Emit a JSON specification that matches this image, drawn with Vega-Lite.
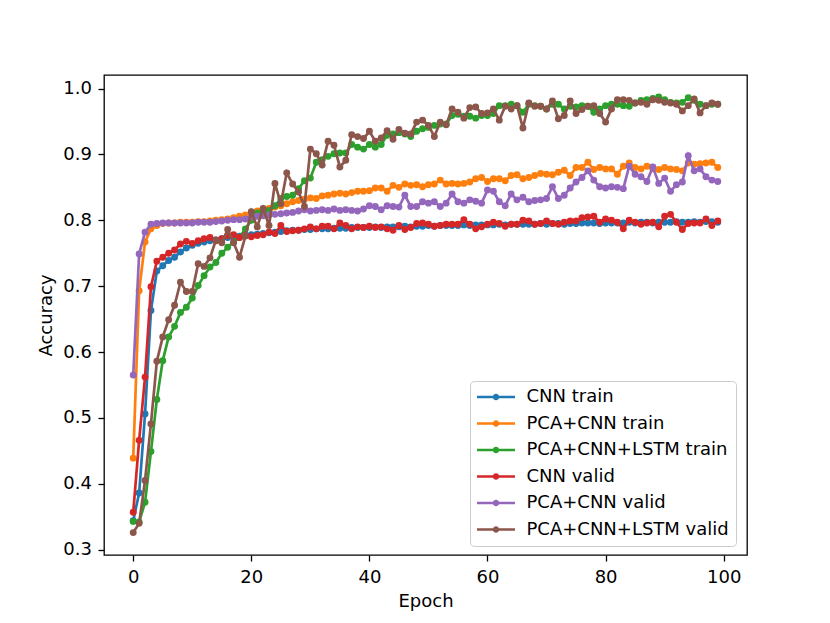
{
  "$schema": "https://vega.github.io/schema/vega-lite/v6.json",
  "autosize": "none",
  "width": 643,
  "height": 480,
  "padding": {"left": 104, "top": 75, "right": 83, "bottom": 68},
  "background": "white",
  "datasets": {
    "cnn_train": [
      {"epoch":0,"acc":0.344},{"epoch":1,"acc":0.386},{"epoch":2,"acc":0.506},{"epoch":3,"acc":0.663},{"epoch":4,"acc":0.723},
      {"epoch":5,"acc":0.731},{"epoch":6,"acc":0.739},{"epoch":7,"acc":0.744},{"epoch":8,"acc":0.752},{"epoch":9,"acc":0.758},
      {"epoch":10,"acc":0.762},{"epoch":11,"acc":0.765},{"epoch":12,"acc":0.767},{"epoch":13,"acc":0.769},{"epoch":14,"acc":0.770},
      {"epoch":15,"acc":0.772},{"epoch":16,"acc":0.774},{"epoch":17,"acc":0.775},{"epoch":18,"acc":0.776},{"epoch":19,"acc":0.777},
      {"epoch":20,"acc":0.778},{"epoch":21,"acc":0.779},{"epoch":22,"acc":0.780},{"epoch":23,"acc":0.781},{"epoch":24,"acc":0.782},
      {"epoch":25,"acc":0.783},{"epoch":26,"acc":0.784},{"epoch":27,"acc":0.785},{"epoch":28,"acc":0.785},{"epoch":29,"acc":0.786},
      {"epoch":30,"acc":0.786},{"epoch":31,"acc":0.787},{"epoch":32,"acc":0.787},{"epoch":33,"acc":0.787},{"epoch":34,"acc":0.788},
      {"epoch":35,"acc":0.788},{"epoch":36,"acc":0.788},{"epoch":37,"acc":0.789},{"epoch":38,"acc":0.789},{"epoch":39,"acc":0.789},
      {"epoch":40,"acc":0.789},{"epoch":41,"acc":0.790},{"epoch":42,"acc":0.789},{"epoch":43,"acc":0.790},{"epoch":44,"acc":0.790},
      {"epoch":45,"acc":0.790},{"epoch":46,"acc":0.791},{"epoch":47,"acc":0.790},{"epoch":48,"acc":0.791},{"epoch":49,"acc":0.791},
      {"epoch":50,"acc":0.792},{"epoch":51,"acc":0.791},{"epoch":52,"acc":0.792},{"epoch":53,"acc":0.792},{"epoch":54,"acc":0.792},
      {"epoch":55,"acc":0.792},{"epoch":56,"acc":0.793},{"epoch":57,"acc":0.792},{"epoch":58,"acc":0.793},{"epoch":59,"acc":0.793},
      {"epoch":60,"acc":0.793},{"epoch":61,"acc":0.793},{"epoch":62,"acc":0.794},{"epoch":63,"acc":0.793},{"epoch":64,"acc":0.794},
      {"epoch":65,"acc":0.794},{"epoch":66,"acc":0.794},{"epoch":67,"acc":0.794},{"epoch":68,"acc":0.794},{"epoch":69,"acc":0.795},
      {"epoch":70,"acc":0.794},{"epoch":71,"acc":0.795},{"epoch":72,"acc":0.795},{"epoch":73,"acc":0.794},{"epoch":74,"acc":0.795},
      {"epoch":75,"acc":0.795},{"epoch":76,"acc":0.796},{"epoch":77,"acc":0.796},{"epoch":78,"acc":0.796},{"epoch":79,"acc":0.795},
      {"epoch":80,"acc":0.796},{"epoch":81,"acc":0.796},{"epoch":82,"acc":0.796},{"epoch":83,"acc":0.796},{"epoch":84,"acc":0.797},
      {"epoch":85,"acc":0.796},{"epoch":86,"acc":0.797},{"epoch":87,"acc":0.797},{"epoch":88,"acc":0.796},{"epoch":89,"acc":0.797},
      {"epoch":90,"acc":0.797},{"epoch":91,"acc":0.797},{"epoch":92,"acc":0.798},{"epoch":93,"acc":0.797},{"epoch":94,"acc":0.797},
      {"epoch":95,"acc":0.798},{"epoch":96,"acc":0.797},{"epoch":97,"acc":0.798},{"epoch":98,"acc":0.798},{"epoch":99,"acc":0.797}
    ],
    "pca_train": [
      {"epoch":0,"acc":0.439},{"epoch":1,"acc":0.693},{"epoch":2,"acc":0.767},{"epoch":3,"acc":0.787},{"epoch":4,"acc":0.792},
      {"epoch":5,"acc":0.795},{"epoch":6,"acc":0.796},{"epoch":7,"acc":0.796},{"epoch":8,"acc":0.797},{"epoch":9,"acc":0.797},
      {"epoch":10,"acc":0.797},{"epoch":11,"acc":0.798},{"epoch":12,"acc":0.798},{"epoch":13,"acc":0.799},{"epoch":14,"acc":0.800},
      {"epoch":15,"acc":0.801},{"epoch":16,"acc":0.802},{"epoch":17,"acc":0.804},{"epoch":18,"acc":0.806},{"epoch":19,"acc":0.808},
      {"epoch":20,"acc":0.811},{"epoch":21,"acc":0.814},{"epoch":22,"acc":0.816},{"epoch":23,"acc":0.818},{"epoch":24,"acc":0.820},
      {"epoch":25,"acc":0.822},{"epoch":26,"acc":0.825},{"epoch":27,"acc":0.828},{"epoch":28,"acc":0.830},{"epoch":29,"acc":0.832},
      {"epoch":30,"acc":0.834},{"epoch":31,"acc":0.833},{"epoch":32,"acc":0.837},{"epoch":33,"acc":0.838},{"epoch":34,"acc":0.840},
      {"epoch":35,"acc":0.841},{"epoch":36,"acc":0.840},{"epoch":37,"acc":0.842},{"epoch":38,"acc":0.844},{"epoch":39,"acc":0.844},
      {"epoch":40,"acc":0.845},{"epoch":41,"acc":0.849},{"epoch":42,"acc":0.849},{"epoch":43,"acc":0.844},{"epoch":44,"acc":0.853},
      {"epoch":45,"acc":0.850},{"epoch":46,"acc":0.855},{"epoch":47,"acc":0.853},{"epoch":48,"acc":0.854},{"epoch":49,"acc":0.851},
      {"epoch":50,"acc":0.854},{"epoch":51,"acc":0.855},{"epoch":52,"acc":0.861},{"epoch":53,"acc":0.855},{"epoch":54,"acc":0.856},
      {"epoch":55,"acc":0.855},{"epoch":56,"acc":0.856},{"epoch":57,"acc":0.858},{"epoch":58,"acc":0.863},{"epoch":59,"acc":0.865},
      {"epoch":60,"acc":0.859},{"epoch":61,"acc":0.863},{"epoch":62,"acc":0.863},{"epoch":63,"acc":0.860},{"epoch":64,"acc":0.868},
      {"epoch":65,"acc":0.869},{"epoch":66,"acc":0.863},{"epoch":67,"acc":0.865},{"epoch":68,"acc":0.868},{"epoch":69,"acc":0.871},
      {"epoch":70,"acc":0.870},{"epoch":71,"acc":0.869},{"epoch":72,"acc":0.873},{"epoch":73,"acc":0.876},{"epoch":74,"acc":0.868},
      {"epoch":75,"acc":0.880},{"epoch":76,"acc":0.880},{"epoch":77,"acc":0.888},{"epoch":78,"acc":0.877},{"epoch":79,"acc":0.880},
      {"epoch":80,"acc":0.878},{"epoch":81,"acc":0.878},{"epoch":82,"acc":0.870},{"epoch":83,"acc":0.882},{"epoch":84,"acc":0.887},
      {"epoch":85,"acc":0.880},{"epoch":86,"acc":0.878},{"epoch":87,"acc":0.882},{"epoch":88,"acc":0.878},{"epoch":89,"acc":0.877},
      {"epoch":90,"acc":0.880},{"epoch":91,"acc":0.878},{"epoch":92,"acc":0.877},{"epoch":93,"acc":0.875},{"epoch":94,"acc":0.887},
      {"epoch":95,"acc":0.885},{"epoch":96,"acc":0.886},{"epoch":97,"acc":0.887},{"epoch":98,"acc":0.888},{"epoch":99,"acc":0.880}
    ],
    "lstm_train": [
      {"epoch":0,"acc":0.343},{"epoch":1,"acc":0.342},{"epoch":2,"acc":0.372},{"epoch":3,"acc":0.449},{"epoch":4,"acc":0.528},
      {"epoch":5,"acc":0.587},{"epoch":6,"acc":0.623},{"epoch":7,"acc":0.639},{"epoch":8,"acc":0.660},{"epoch":9,"acc":0.668},
      {"epoch":10,"acc":0.682},{"epoch":11,"acc":0.701},{"epoch":12,"acc":0.716},{"epoch":13,"acc":0.729},{"epoch":14,"acc":0.736},
      {"epoch":15,"acc":0.750},{"epoch":16,"acc":0.759},{"epoch":17,"acc":0.767},{"epoch":18,"acc":0.774},{"epoch":19,"acc":0.787},
      {"epoch":20,"acc":0.800},{"epoch":21,"acc":0.811},{"epoch":22,"acc":0.812},{"epoch":23,"acc":0.815},{"epoch":24,"acc":0.822},
      {"epoch":25,"acc":0.833},{"epoch":26,"acc":0.836},{"epoch":27,"acc":0.838},{"epoch":28,"acc":0.848},{"epoch":29,"acc":0.860},
      {"epoch":30,"acc":0.864},{"epoch":31,"acc":0.888},{"epoch":32,"acc":0.892},{"epoch":33,"acc":0.897},{"epoch":34,"acc":0.901},
      {"epoch":35,"acc":0.902},{"epoch":36,"acc":0.902},{"epoch":37,"acc":0.915},{"epoch":38,"acc":0.911},{"epoch":39,"acc":0.908},
      {"epoch":40,"acc":0.915},{"epoch":41,"acc":0.911},{"epoch":42,"acc":0.915},{"epoch":43,"acc":0.929},{"epoch":44,"acc":0.931},
      {"epoch":45,"acc":0.933},{"epoch":46,"acc":0.931},{"epoch":47,"acc":0.927},{"epoch":48,"acc":0.935},{"epoch":49,"acc":0.939},
      {"epoch":50,"acc":0.941},{"epoch":51,"acc":0.944},{"epoch":52,"acc":0.946},{"epoch":53,"acc":0.946},{"epoch":54,"acc":0.959},
      {"epoch":55,"acc":0.961},{"epoch":56,"acc":0.958},{"epoch":57,"acc":0.958},{"epoch":58,"acc":0.955},{"epoch":59,"acc":0.959},
      {"epoch":60,"acc":0.959},{"epoch":61,"acc":0.962},{"epoch":62,"acc":0.974},{"epoch":63,"acc":0.974},{"epoch":64,"acc":0.976},
      {"epoch":65,"acc":0.974},{"epoch":66,"acc":0.964},{"epoch":67,"acc":0.976},{"epoch":68,"acc":0.974},{"epoch":69,"acc":0.973},
      {"epoch":70,"acc":0.969},{"epoch":71,"acc":0.976},{"epoch":72,"acc":0.976},{"epoch":73,"acc":0.969},{"epoch":74,"acc":0.973},
      {"epoch":75,"acc":0.972},{"epoch":76,"acc":0.974},{"epoch":77,"acc":0.973},{"epoch":78,"acc":0.964},{"epoch":79,"acc":0.969},
      {"epoch":80,"acc":0.974},{"epoch":81,"acc":0.976},{"epoch":82,"acc":0.976},{"epoch":83,"acc":0.974},{"epoch":84,"acc":0.973},
      {"epoch":85,"acc":0.978},{"epoch":86,"acc":0.982},{"epoch":87,"acc":0.983},{"epoch":88,"acc":0.985},{"epoch":89,"acc":0.987},
      {"epoch":90,"acc":0.983},{"epoch":91,"acc":0.979},{"epoch":92,"acc":0.978},{"epoch":93,"acc":0.979},{"epoch":94,"acc":0.986},
      {"epoch":95,"acc":0.982},{"epoch":96,"acc":0.976},{"epoch":97,"acc":0.974},{"epoch":98,"acc":0.976},{"epoch":99,"acc":0.976}
    ],
    "cnn_valid": [
      {"epoch":0,"acc":0.357},{"epoch":1,"acc":0.466},{"epoch":2,"acc":0.562},{"epoch":3,"acc":0.699},{"epoch":4,"acc":0.738},
      {"epoch":5,"acc":0.744},{"epoch":6,"acc":0.750},{"epoch":7,"acc":0.755},{"epoch":8,"acc":0.764},{"epoch":9,"acc":0.768},
      {"epoch":10,"acc":0.765},{"epoch":11,"acc":0.769},{"epoch":12,"acc":0.772},{"epoch":13,"acc":0.774},{"epoch":14,"acc":0.769},
      {"epoch":15,"acc":0.772},{"epoch":16,"acc":0.777},{"epoch":17,"acc":0.778},{"epoch":18,"acc":0.774},{"epoch":19,"acc":0.777},
      {"epoch":20,"acc":0.775},{"epoch":21,"acc":0.777},{"epoch":22,"acc":0.778},{"epoch":23,"acc":0.782},{"epoch":24,"acc":0.780},
      {"epoch":25,"acc":0.792},{"epoch":26,"acc":0.783},{"epoch":27,"acc":0.784},{"epoch":28,"acc":0.785},{"epoch":29,"acc":0.787},
      {"epoch":30,"acc":0.790},{"epoch":31,"acc":0.787},{"epoch":32,"acc":0.791},{"epoch":33,"acc":0.791},{"epoch":34,"acc":0.787},
      {"epoch":35,"acc":0.796},{"epoch":36,"acc":0.792},{"epoch":37,"acc":0.787},{"epoch":38,"acc":0.790},{"epoch":39,"acc":0.789},
      {"epoch":40,"acc":0.791},{"epoch":41,"acc":0.789},{"epoch":42,"acc":0.790},{"epoch":43,"acc":0.787},{"epoch":44,"acc":0.785},
      {"epoch":45,"acc":0.792},{"epoch":46,"acc":0.786},{"epoch":47,"acc":0.789},{"epoch":48,"acc":0.795},{"epoch":49,"acc":0.796},
      {"epoch":50,"acc":0.794},{"epoch":51,"acc":0.791},{"epoch":52,"acc":0.792},{"epoch":53,"acc":0.794},{"epoch":54,"acc":0.794},
      {"epoch":55,"acc":0.794},{"epoch":56,"acc":0.801},{"epoch":57,"acc":0.794},{"epoch":58,"acc":0.787},{"epoch":59,"acc":0.790},
      {"epoch":60,"acc":0.794},{"epoch":61,"acc":0.797},{"epoch":62,"acc":0.795},{"epoch":63,"acc":0.791},{"epoch":64,"acc":0.794},
      {"epoch":65,"acc":0.794},{"epoch":66,"acc":0.800},{"epoch":67,"acc":0.799},{"epoch":68,"acc":0.794},{"epoch":69,"acc":0.795},
      {"epoch":70,"acc":0.799},{"epoch":71,"acc":0.795},{"epoch":72,"acc":0.794},{"epoch":73,"acc":0.797},{"epoch":74,"acc":0.799},
      {"epoch":75,"acc":0.799},{"epoch":76,"acc":0.804},{"epoch":77,"acc":0.805},{"epoch":78,"acc":0.806},{"epoch":79,"acc":0.797},
      {"epoch":80,"acc":0.802},{"epoch":81,"acc":0.800},{"epoch":82,"acc":0.797},{"epoch":83,"acc":0.787},{"epoch":84,"acc":0.800},
      {"epoch":85,"acc":0.797},{"epoch":86,"acc":0.794},{"epoch":87,"acc":0.796},{"epoch":88,"acc":0.797},{"epoch":89,"acc":0.790},
      {"epoch":90,"acc":0.806},{"epoch":91,"acc":0.809},{"epoch":92,"acc":0.797},{"epoch":93,"acc":0.786},{"epoch":94,"acc":0.795},
      {"epoch":95,"acc":0.796},{"epoch":96,"acc":0.796},{"epoch":97,"acc":0.802},{"epoch":98,"acc":0.792},{"epoch":99,"acc":0.799}
    ],
    "pca_valid": [
      {"epoch":0,"acc":0.565},{"epoch":1,"acc":0.749},{"epoch":2,"acc":0.782},{"epoch":3,"acc":0.794},{"epoch":4,"acc":0.795},
      {"epoch":5,"acc":0.796},{"epoch":6,"acc":0.796},{"epoch":7,"acc":0.796},{"epoch":8,"acc":0.796},{"epoch":9,"acc":0.796},
      {"epoch":10,"acc":0.796},{"epoch":11,"acc":0.797},{"epoch":12,"acc":0.797},{"epoch":13,"acc":0.797},{"epoch":14,"acc":0.798},
      {"epoch":15,"acc":0.799},{"epoch":16,"acc":0.800},{"epoch":17,"acc":0.801},{"epoch":18,"acc":0.801},{"epoch":19,"acc":0.802},
      {"epoch":20,"acc":0.805},{"epoch":21,"acc":0.806},{"epoch":22,"acc":0.807},{"epoch":23,"acc":0.808},{"epoch":24,"acc":0.809},
      {"epoch":25,"acc":0.810},{"epoch":26,"acc":0.811},{"epoch":27,"acc":0.812},{"epoch":28,"acc":0.814},{"epoch":29,"acc":0.816},
      {"epoch":30,"acc":0.814},{"epoch":31,"acc":0.815},{"epoch":32,"acc":0.816},{"epoch":33,"acc":0.815},{"epoch":34,"acc":0.817},
      {"epoch":35,"acc":0.815},{"epoch":36,"acc":0.816},{"epoch":37,"acc":0.815},{"epoch":38,"acc":0.814},{"epoch":39,"acc":0.817},
      {"epoch":40,"acc":0.822},{"epoch":41,"acc":0.821},{"epoch":42,"acc":0.816},{"epoch":43,"acc":0.822},{"epoch":44,"acc":0.821},
      {"epoch":45,"acc":0.820},{"epoch":46,"acc":0.838},{"epoch":47,"acc":0.821},{"epoch":48,"acc":0.821},{"epoch":49,"acc":0.828},
      {"epoch":50,"acc":0.826},{"epoch":51,"acc":0.828},{"epoch":52,"acc":0.821},{"epoch":53,"acc":0.826},{"epoch":54,"acc":0.840},
      {"epoch":55,"acc":0.828},{"epoch":56,"acc":0.826},{"epoch":57,"acc":0.831},{"epoch":58,"acc":0.829},{"epoch":59,"acc":0.826},
      {"epoch":60,"acc":0.846},{"epoch":61,"acc":0.844},{"epoch":62,"acc":0.828},{"epoch":63,"acc":0.822},{"epoch":64,"acc":0.840},
      {"epoch":65,"acc":0.831},{"epoch":66,"acc":0.835},{"epoch":67,"acc":0.828},{"epoch":68,"acc":0.830},{"epoch":69,"acc":0.831},
      {"epoch":70,"acc":0.833},{"epoch":71,"acc":0.851},{"epoch":72,"acc":0.833},{"epoch":73,"acc":0.838},{"epoch":74,"acc":0.849},
      {"epoch":75,"acc":0.858},{"epoch":76,"acc":0.865},{"epoch":77,"acc":0.875},{"epoch":78,"acc":0.861},{"epoch":79,"acc":0.851},
      {"epoch":80,"acc":0.849},{"epoch":81,"acc":0.851},{"epoch":82,"acc":0.850},{"epoch":83,"acc":0.848},{"epoch":84,"acc":0.882},
      {"epoch":85,"acc":0.870},{"epoch":86,"acc":0.866},{"epoch":87,"acc":0.859},{"epoch":88,"acc":0.881},{"epoch":89,"acc":0.856},
      {"epoch":90,"acc":0.864},{"epoch":91,"acc":0.844},{"epoch":92,"acc":0.854},{"epoch":93,"acc":0.858},{"epoch":94,"acc":0.898},
      {"epoch":95,"acc":0.875},{"epoch":96,"acc":0.878},{"epoch":97,"acc":0.866},{"epoch":98,"acc":0.861},{"epoch":99,"acc":0.859}
    ],
    "lstm_valid": [
      {"epoch":0,"acc":0.326},{"epoch":1,"acc":0.340},{"epoch":2,"acc":0.405},{"epoch":3,"acc":0.491},{"epoch":4,"acc":0.586},
      {"epoch":5,"acc":0.623},{"epoch":6,"acc":0.649},{"epoch":7,"acc":0.671},{"epoch":8,"acc":0.706},{"epoch":9,"acc":0.692},
      {"epoch":10,"acc":0.692},{"epoch":11,"acc":0.734},{"epoch":12,"acc":0.730},{"epoch":13,"acc":0.743},{"epoch":14,"acc":0.770},
      {"epoch":15,"acc":0.766},{"epoch":16,"acc":0.786},{"epoch":17,"acc":0.766},{"epoch":18,"acc":0.744},{"epoch":19,"acc":0.776},
      {"epoch":20,"acc":0.813},{"epoch":21,"acc":0.790},{"epoch":22,"acc":0.818},{"epoch":23,"acc":0.792},{"epoch":24,"acc":0.856},
      {"epoch":25,"acc":0.825},{"epoch":26,"acc":0.872},{"epoch":27,"acc":0.855},{"epoch":28,"acc":0.843},{"epoch":29,"acc":0.821},
      {"epoch":30,"acc":0.908},{"epoch":31,"acc":0.901},{"epoch":32,"acc":0.884},{"epoch":33,"acc":0.920},{"epoch":34,"acc":0.914},
      {"epoch":35,"acc":0.881},{"epoch":36,"acc":0.891},{"epoch":37,"acc":0.930},{"epoch":38,"acc":0.927},{"epoch":39,"acc":0.924},
      {"epoch":40,"acc":0.935},{"epoch":41,"acc":0.920},{"epoch":42,"acc":0.925},{"epoch":43,"acc":0.936},{"epoch":44,"acc":0.923},
      {"epoch":45,"acc":0.938},{"epoch":46,"acc":0.932},{"epoch":47,"acc":0.931},{"epoch":48,"acc":0.949},{"epoch":49,"acc":0.952},
      {"epoch":50,"acc":0.944},{"epoch":51,"acc":0.927},{"epoch":52,"acc":0.949},{"epoch":53,"acc":0.945},{"epoch":54,"acc":0.969},
      {"epoch":55,"acc":0.964},{"epoch":56,"acc":0.955},{"epoch":57,"acc":0.971},{"epoch":58,"acc":0.972},{"epoch":59,"acc":0.962},
      {"epoch":60,"acc":0.963},{"epoch":61,"acc":0.969},{"epoch":62,"acc":0.952},{"epoch":63,"acc":0.973},{"epoch":64,"acc":0.969},
      {"epoch":65,"acc":0.974},{"epoch":66,"acc":0.940},{"epoch":67,"acc":0.978},{"epoch":68,"acc":0.973},{"epoch":69,"acc":0.973},
      {"epoch":70,"acc":0.969},{"epoch":71,"acc":0.981},{"epoch":72,"acc":0.954},{"epoch":73,"acc":0.959},{"epoch":74,"acc":0.981},
      {"epoch":75,"acc":0.962},{"epoch":76,"acc":0.968},{"epoch":77,"acc":0.973},{"epoch":78,"acc":0.974},{"epoch":79,"acc":0.962},
      {"epoch":80,"acc":0.949},{"epoch":81,"acc":0.969},{"epoch":82,"acc":0.983},{"epoch":83,"acc":0.983},{"epoch":84,"acc":0.982},
      {"epoch":85,"acc":0.978},{"epoch":86,"acc":0.979},{"epoch":87,"acc":0.976},{"epoch":88,"acc":0.983},{"epoch":89,"acc":0.982},
      {"epoch":90,"acc":0.979},{"epoch":91,"acc":0.978},{"epoch":92,"acc":0.976},{"epoch":93,"acc":0.966},{"epoch":94,"acc":0.974},
      {"epoch":95,"acc":0.984},{"epoch":96,"acc":0.963},{"epoch":97,"acc":0.974},{"epoch":98,"acc":0.978},{"epoch":99,"acc":0.976}
    ]
  },
  "encoding": {
    "x": {
      "field": "epoch",
      "type": "quantitative",
      "title": "Epoch",
      "scale": {"domain": [-4.95, 103.95], "nice": false, "zero": false},
      "axis": {"values": [0, 20, 40, 60, 80, 100], "format": "d", "labelPadding": 7, "titlePadding": 6}
    },
    "y": {
      "field": "acc",
      "type": "quantitative",
      "title": "Accuracy",
      "scale": {"domain": [0.292, 1.0205], "nice": false, "zero": false},
      "axis": {"values": [0.3, 0.4, 0.5, 0.6, 0.7, 0.8, 0.9, 1.0], "format": ".1f", "labelPadding": 6.5, "titlePadding": 7}
    }
  },
  "layer": [
    {
      "data": {"name": "cnn_train"},
      "mark": {"type": "line", "strokeWidth": 2.7, "point": {"filled": true, "size": 48}},
      "encoding": {
        "color": {
          "datum": "CNN train",
          "type": "nominal",
          "scale": {
            "domain": ["CNN train", "PCA+CNN train", "PCA+CNN+LSTM train", "CNN valid", "PCA+CNN valid", "PCA+CNN+LSTM valid"],
            "range": ["#1f77b4", "#ff7f0e", "#2ca02c", "#d62728", "#9467bd", "#8c564b"]
          },
          "legend": {
            "title": null,
            "orient": "none",
            "legendX": 366,
            "legendY": 306,
            "padding": 7,
            "fillColor": "rgba(255,255,255,0.8)",
            "strokeColor": "#cccccc",
            "cornerRadius": 4,
            "symbolType": "M-1,0H1M-0.1,0A0.1,0.1,0,1,1,0.1,0A0.1,0.1,0,1,1,-0.1,0",
            "symbolSize": 1444,
            "symbolStrokeWidth": 2.7,
            "symbolOffset": -1.5,
            "clipHeight": 18,
            "rowPadding": 8.5,
            "labelOffset": 10,
            "labelLimit": 0,
            "labelFont": "DejaVu Sans",
            "labelFontSize": 18,
            "labelColor": "black"
          }
        }
      }
    },
    {
      "data": {"name": "pca_train"},
      "mark": {"type": "line", "strokeWidth": 2.7, "point": {"filled": true, "size": 48}},
      "encoding": {"color": {"datum": "PCA+CNN train", "type": "nominal"}}
    },
    {
      "data": {"name": "lstm_train"},
      "mark": {"type": "line", "strokeWidth": 2.7, "point": {"filled": true, "size": 48}},
      "encoding": {"color": {"datum": "PCA+CNN+LSTM train", "type": "nominal"}}
    },
    {
      "data": {"name": "cnn_valid"},
      "mark": {"type": "line", "strokeWidth": 2.7, "point": {"filled": true, "size": 48}},
      "encoding": {"color": {"datum": "CNN valid", "type": "nominal"}}
    },
    {
      "data": {"name": "pca_valid"},
      "mark": {"type": "line", "strokeWidth": 2.7, "point": {"filled": true, "size": 48}},
      "encoding": {"color": {"datum": "PCA+CNN valid", "type": "nominal"}}
    },
    {
      "data": {"name": "lstm_valid"},
      "mark": {"type": "line", "strokeWidth": 2.7, "point": {"filled": true, "size": 48}},
      "encoding": {"color": {"datum": "PCA+CNN+LSTM valid", "type": "nominal"}}
    }
  ],
  "config": {
    "font": "DejaVu Sans",
    "view": {"stroke": "black", "strokeWidth": 1.3},
    "axis": {
      "grid": false,
      "domain": false,
      "ticks": true,
      "tickColor": "black",
      "tickWidth": 1.3,
      "tickSize": 6,
      "labelFont": "DejaVu Sans",
      "labelFontSize": 18,
      "labelColor": "black",
      "titleFont": "DejaVu Sans",
      "titleFontSize": 18,
      "titleFontWeight": "normal",
      "titleColor": "black"
    }
  }
}
